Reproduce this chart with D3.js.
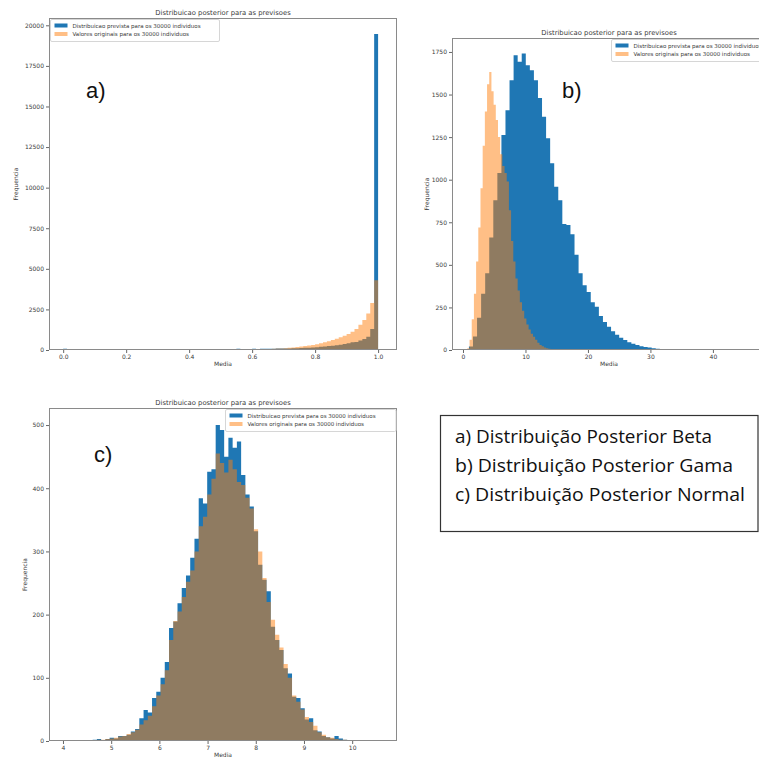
<!DOCTYPE html>
<html>
<head>
<meta charset="utf-8">
<script src="https://cdn.jsdelivr.net/npm/d3@7"></script>
<style>
    body { margin: 0; background: #fff; }
    svg { display: block; font-family: "DejaVu Sans", sans-serif; }
</style>
</head>
<body>
<svg></svg>
<script>
const width = 759;
const height = 758;

const panelTitle = "Distribuicao posterior para as previsoes";
const legendLabels = ["Distribuicao prevista para os 30000 individuos", "Valores originais para os 30000 individuos"];
const boxLines = ["a) Distribuição Posterior Beta", "b) Distribuição Posterior Gama", "c) Distribuição Posterior Normal"];

// a) Beta
const betaStart = 0;
const betaStep = 0.0125;
const betaPredicted = [70, 55, 60, 50, 45, 60, 40, 55, 50, 45, 40, 55, 60, 45, 50, 40, 55, 50, 60, 45,
    40, 50, 55, 45, 60, 50, 45, 55, 40, 50, 60, 45, 55, 50, 40, 45, 55, 60, 50, 45,
    55, 60, 65, 50, 70, 60, 55, 65, 70, 65, 75, 70, 80, 75, 85, 90, 95, 100, 110, 115,
    125, 135, 145, 160, 175, 195, 215, 240, 265, 295, 330, 370, 420, 480, 500, 580, 680, 820, 1300, 19470];
const betaOriginal = [3, 2, 4, 3, 2, 3, 4, 3, 2, 4, 3, 4, 5, 3, 4, 5, 4, 6, 5, 4,
    6, 5, 7, 6, 5, 7, 8, 6, 7, 8, 9, 8, 10, 9, 11, 10, 12, 11, 13, 14,
    13, 15, 16, 18, 20, 22, 24, 27, 30, 35, 45, 50, 60, 70, 85, 100, 115, 135, 155, 180,
    210, 240, 275, 315, 360, 410, 470, 535, 610, 700, 790, 880, 990, 1120, 1300, 1550, 1850, 2250, 2900, 4300];
const betaTicksX = [0, 0.2, 0.4, 0.6, 0.8, 1.0];
const betaTicksY = [0, 2500, 5000, 7500, 10000, 12500, 15000, 17500, 20000];

// b) Gama
const gammaPredStart = 0.3;
const gammaPredStep = 0.65;
const gammaPredicted = [3, 20, 80, 190, 330, 450, 660, 880, 1040, 1262,
    1408, 1584, 1731, 1692, 1741, 1672, 1643, 1584, 1479, 1369,
    1244, 1097, 958, 880, 740, 734, 680, 560, 450, 380,
    340, 280, 254, 200, 165, 137, 110, 90, 72, 58,
    46, 37, 29, 22, 18, 14, 10, 8, 6, 5,
    4, 3, 2, 2, 1, 1, 1, 1];
const gammaOrigStart = 0.7;
const gammaOrigStep = 0.35;
const gammaOriginal = [10, 60, 180, 330, 520, 720, 950, 1200, 1400, 1560,
    1633, 1520, 1440, 1350, 1250, 1150, 1080, 1040, 990, 820,
    640, 520, 420, 350, 280, 230, 185, 150, 120, 95,
    78, 60, 42, 30, 22, 15, 10, 7, 5, 3, 2, 1];
const gammaTicksX = [0, 10, 20, 30, 40];
const gammaTicksY = [0, 250, 500, 750, 1000, 1250, 1500, 1750];

// c) Normal
const normalStart = 4.0;
const normalStep = 0.088;
const normalPredicted = [1, 0, 0, 1, 0, 0, 1, 2, 3, 1,
    3, 5, 4, 8, 8, 10, 15, 19, 36, 49,
    45, 68, 78, 100, 125, 179, 189, 218, 242, 262,
    290, 320, 384, 376, 426, 430, 500, 492, 450, 480,
    464, 474, 421, 390, 371, 332, 279, 255, 237, 181,
    160, 144, 115, 107, 70, 68, 52, 34, 36, 17,
    15, 8, 6, 4, 8, 4, 2, 1, 1, 0,
    1, 0, 1, 0];
const normalOriginal = [0, 1, 0, 0, 1, 0, 1, 1, 2, 2,
    3, 4, 5, 7, 8, 11, 14, 18, 26, 33,
    40, 55, 72, 90, 112, 160, 190, 205, 228, 252,
    270, 300, 340, 355, 390, 415, 455, 440, 425, 445,
    430, 410, 405, 385, 368, 335, 300, 258, 220, 192,
    168, 148, 122, 100, 72, 62, 50, 38, 30, 24,
    14, 10, 6, 5, 3, 2, 2, 1, 1, 0,
    0, 1, 0, 0];
const normalTicksX = [4, 5, 6, 7, 8, 9, 10];
const normalTicksY = [0, 100, 200, 300, 400, 500];

const blue = "#1f77b4";
const orange = "#ff7f0e";
const ink = "#3a3a3a";

const svg = d3.select("svg")
    .attr("width", width)
    .attr("height", height);

const panels = [
    {
        id: "a", frame: [49, 18, 397, 350], xDomain: [-0.045, 1.06], yDomain: [0, 20450],
        xTicks: betaTicksX, yTicks: betaTicksY, xFormat: d3.format(".1f"), ylabelGap: 31,
        series: [
            {start: betaStart, step: betaStep, counts: betaPredicted},
            {start: betaStart, step: betaStep, counts: betaOriginal}
        ],
        legend: {x: 50.5, y: 19.5, w: 169}, tag: {x: 86, y: 98}
    },
    {
        id: "b", frame: [452, 38, 766, 350], xDomain: [-1.76, 48.5], yDomain: [0, 1832],
        xTicks: gammaTicksX, yTicks: gammaTicksY, xFormat: d3.format("d"), ylabelGap: 23,
        series: [
            {start: gammaPredStart, step: gammaPredStep, counts: gammaPredicted},
            {start: gammaOrigStart, step: gammaOrigStep, counts: gammaOriginal}
        ],
        legend: {x: 611.5, y: 39.5, w: 169}, tag: {x: 562, y: 98}
    },
    {
        id: "c", frame: [49, 408, 397, 741], xDomain: [3.71, 10.93], yDomain: [0, 527],
        xTicks: normalTicksX, yTicks: normalTicksY, xFormat: d3.format("d"), ylabelGap: 22,
        series: [
            {start: normalStart, step: normalStep, counts: normalPredicted},
            {start: normalStart, step: normalStep, counts: normalOriginal}
        ],
        legend: {x: 225.5, y: 409.5, w: 170.5}, tag: {x: 94, y: 462}
    }
];

panels.forEach(p => {
    const [left, top, right, bottom] = p.frame;
    const x = d3.scaleLinear().domain(p.xDomain).range([left, right]);
    const y = d3.scaleLinear().domain(p.yDomain).range([bottom, top]);

    const g = svg.append("g").attr("class", `panel-${p.id}`);

    g.append("clipPath")
        .attr("id", `clip-${p.id}`)
        .append("rect")
        .attr("x", left).attr("y", top)
        .attr("width", right - left).attr("height", bottom - top);

    const area = d3.area()
        .curve(d3.curveStepAfter)
        .x(d => x(d.x))
        .y0(y(0))
        .y1(d => y(d.n));

    const plot = g.append("g").attr("clip-path", `url(#clip-${p.id})`);
    p.series.forEach((s, i) => {
        const pts = s.counts.map((n, k) => ({x: s.start + k * s.step, n}));
        pts.push({x: s.start + s.counts.length * s.step, n: s.counts[s.counts.length - 1]});
        plot.append("path")
            .attr("d", area(pts))
            .attr("fill", i === 0 ? blue : orange)
            .attr("fill-opacity", i === 0 ? 1 : 0.5);
    });

    g.append("rect")
        .attr("x", left + 0.5).attr("y", top + 0.5)
        .attr("width", right - left - 1).attr("height", bottom - top - 1)
        .attr("fill", "none")
        .attr("stroke", "#8a8a8a")
        .attr("stroke-width", 1);

    const xAxis = g.append("g")
        .attr("transform", `translate(0,${bottom})`)
        .call(d3.axisBottom(x).tickValues(p.xTicks).tickFormat(p.xFormat).tickSize(3).tickPadding(2));
    const yAxis = g.append("g")
        .attr("transform", `translate(${left},0)`)
        .call(d3.axisLeft(y).tickValues(p.yTicks).tickFormat(d3.format("d")).tickSize(3).tickPadding(2));
    [xAxis, yAxis].forEach(ax => {
        ax.select(".domain").remove();
        ax.selectAll("line").attr("stroke", "#666");
        ax.selectAll("text")
            .attr("fill", ink)
            .style("font-size", "6px")
            .style("font-family", "DejaVu Sans, sans-serif");
    });

    g.append("text")
        .attr("x", (left + right) / 2)
        .attr("y", top - 3.5)
        .attr("text-anchor", "middle")
        .attr("fill", ink)
        .style("font-size", "6.8px")
        .text(panelTitle);

    g.append("text")
        .attr("x", (left + right) / 2)
        .attr("y", bottom + 16)
        .attr("text-anchor", "middle")
        .attr("fill", ink)
        .style("font-size", "6px")
        .text("Media");

    g.append("text")
        .attr("transform", `translate(${left - p.ylabelGap},${(top + bottom) / 2}) rotate(-90)`)
        .attr("text-anchor", "middle")
        .attr("fill", ink)
        .style("font-size", "6px")
        .text("Frequencia");

    const lg = g.append("g").attr("transform", `translate(${p.legend.x},${p.legend.y})`);
    lg.append("rect")
        .attr("width", p.legend.w).attr("height", 22)
        .attr("rx", 1.5)
        .attr("fill", "#fff").attr("fill-opacity", 0.8)
        .attr("stroke", "#d6d6d6");
    const item = lg.selectAll(".legend-item")
        .data(legendLabels)
        .enter().append("g")
        .attr("class", "legend-item")
        .attr("transform", (d, i) => `translate(4,${4 + i * 8.5})`);
    item.append("rect")
        .attr("width", 13).attr("height", 4)
        .attr("fill", (d, i) => i === 0 ? blue : orange)
        .attr("fill-opacity", (d, i) => i === 0 ? 1 : 0.5);
    item.append("text")
        .attr("x", 18)
        .attr("y", 4.3)
        .attr("fill", ink)
        .style("font-size", "5.5px")
        .text(d => d);

    g.append("text")
        .attr("x", p.tag.x)
        .attr("y", p.tag.y)
        .attr("fill", "#111")
        .style("font-family", "Liberation Sans, Arial, sans-serif")
        .style("font-size", "22px")
        .text(`${p.id})`);
});

const box = svg.append("g").attr("class", "caption");
box.append("rect")
    .attr("x", 440.5).attr("y", 415.5)
    .attr("width", 317.5).attr("height", 116)
    .attr("fill", "#fff")
    .attr("stroke", "#333")
    .attr("stroke-width", 1.2);
box.selectAll("text")
    .data(boxLines)
    .enter().append("text")
    .attr("x", 455)
    .attr("y", (d, i) => 443 + i * 29)
    .attr("fill", "#111")
    .attr("textLength", (d, i) => [257, 278, 290][i])
    .attr("lengthAdjust", "spacingAndGlyphs")
    .style("font-family", "Open Sans, sans-serif")
    .style("font-size", "18px")
    .text(d => d);
</script>
</body>
</html>
